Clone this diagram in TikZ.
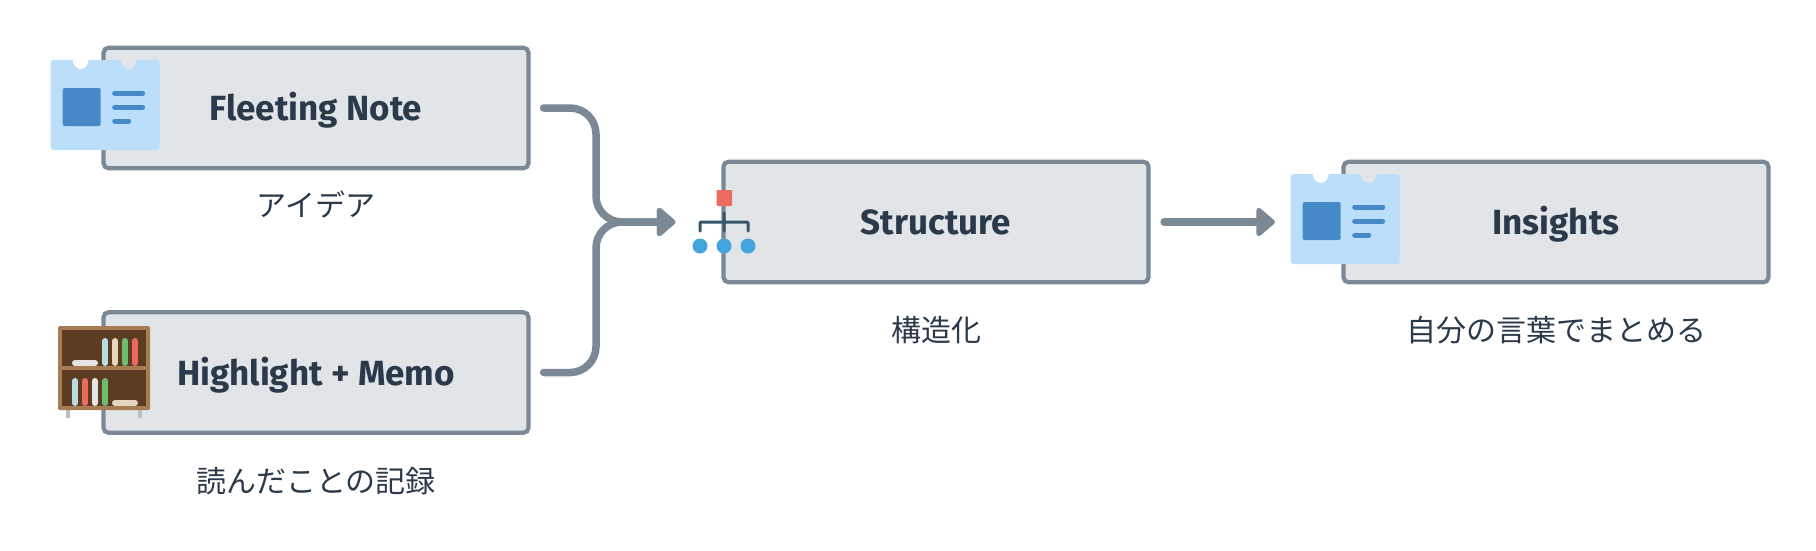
\documentclass[tikz,border=0pt]{standalone}
\usepackage{fontspec}
\setmainfont{Fira Sans}
\newfontfamily\cjk{Noto Sans CJK JP}
\usetikzlibrary{positioning,arrows.meta}

\definecolor{boxfill}{HTML}{E2E5E8}
\definecolor{boxline}{HTML}{7B8896}
\definecolor{inktext}{HTML}{2B3A4A}
\definecolor{cardlight}{HTML}{BBDEFB}
\definecolor{carddark}{HTML}{4589C6}
\definecolor{woodlight}{HTML}{A67C52}
\definecolor{wooddark}{HTML}{5C3D24}
\definecolor{bookblue}{HTML}{B5DDE2}
\definecolor{bookpeach}{HTML}{E8D5C0}
\definecolor{bookgreen}{HTML}{6CBE6C}
\definecolor{bookred}{HTML}{EC6B5E}
\definecolor{bookgrey}{HTML}{E4E4E4}
\definecolor{treeline}{HTML}{34566B}
\definecolor{treedot}{HTML}{42A5DE}

\tikzset{
    notebox/.style={rectangle, draw=boxline, fill=boxfill, line width=4.2pt, rounded corners=5pt,
        minimum width=425pt, minimum height=120.5pt, text=inktext, text height=25.5pt, text depth=0pt,
        font=\fontsize{35}{38}\selectfont\bfseries},
    caption/.style={text=inktext, font=\fontsize{30}{34}\selectfont\cjk},
    flow/.style={draw=boxline, line width=7.5pt, line cap=round, rounded corners=26pt,
        -{Triangle[length=20pt,width=33pt,round]}},
    notecard/.pic={
        \fill[cardlight] (3,0) -- (22,0) arc[start angle=180,end angle=0,x radius=8,y radius=9]
            -- (70,0) arc[start angle=180,end angle=0,x radius=8,y radius=9]
            -- (106,0) arc[start angle=270,end angle=360,radius=3]
            -- (109,87) arc[start angle=0,end angle=90,radius=3]
            -- (3,90) arc[start angle=90,end angle=180,radius=3]
            -- (0,3) arc[start angle=180,end angle=270,radius=3] -- cycle;
        \fill[carddark, rounded corners=2pt] (12,28) rectangle (50,66);
        \draw[carddark, line width=5pt, line cap=round] (64,33) -- (92,33) (64,47) -- (92,47) (64,61) -- (78,61);
    }
}

\begin{document}
\begin{tikzpicture}[x=1pt, y=-1pt]
\useasboundingbox (0,0) rectangle (1816,550);

\node[notebox] (fleeting) at (316,108) {Fleeting Note};
\node[notebox] (highlight) at (316,372.5) {Highlight + Memo};
\node[notebox] (structure) at (936,222) {Structure};
\node[notebox] (insights) at (1556,222) {Insights};

\node[caption, below=17pt of fleeting] (idea) {アイデア};
\node[caption, below=29pt of highlight] (record) {読んだことの記録};
\node[caption, below=28pt of structure] (structured) {構造化};
\node[caption, below=28pt of insights] (words) {自分の言葉でまとめる};

\coordinate (merge) at (596,222);
\draw[flow, shorten <=13pt, shorten >=46pt] (fleeting.east) -| (merge) -- (structure.west);
\draw[flow, shorten <=13pt, shorten >=46pt] (highlight.east) -| (merge) -- (structure.west);
\draw[flow, rounded corners=0pt, shorten <=13.5pt, shorten >=66.5pt] (structure.east) -- (insights.west);

\pic at (50.7,60) {notecard};
\pic at (1290.7,174) {notecard};

% bookshelf
\fill[gray!50] (66,408) rectangle (70,418) (138,408) rectangle (142,418);
\fill[woodlight, rounded corners=1.5pt] (58,326) rectangle (150,410);
\fill[wooddark] (62,330) rectangle (146,406);
\fill[woodlight] (62,366) rectangle (146,370);
\foreach \x/\c in {105/bookblue,115/bookpeach,125/bookgreen,135/bookred}
    \draw[\c, line width=6pt, line cap=round] (\x,341) -- (\x,363);
\foreach \x/\c in {75/bookblue,85/bookred,95/bookgrey,105/bookgreen}
    \draw[\c, line width=6pt, line cap=round] (\x,381) -- (\x,403);
\draw[bookgrey, line width=6pt, line cap=round] (75,363) -- (95,363);
\draw[bookpeach, line width=6pt, line cap=round] (115,403) -- (135,403);

% hierarchy icon
\fill[bookred, rounded corners=1pt] (716.5,190) rectangle (732,206);
\draw[treeline, line width=3pt, line cap=round, rounded corners=1pt]
    (724,213) -- (724,231) (700,231) -- (700,222) -- (748,222) -- (748,231);
\foreach \x in {700,724,748}
    \fill[treedot] (\x,246) circle (7.5);

\end{tikzpicture}
\end{document}
